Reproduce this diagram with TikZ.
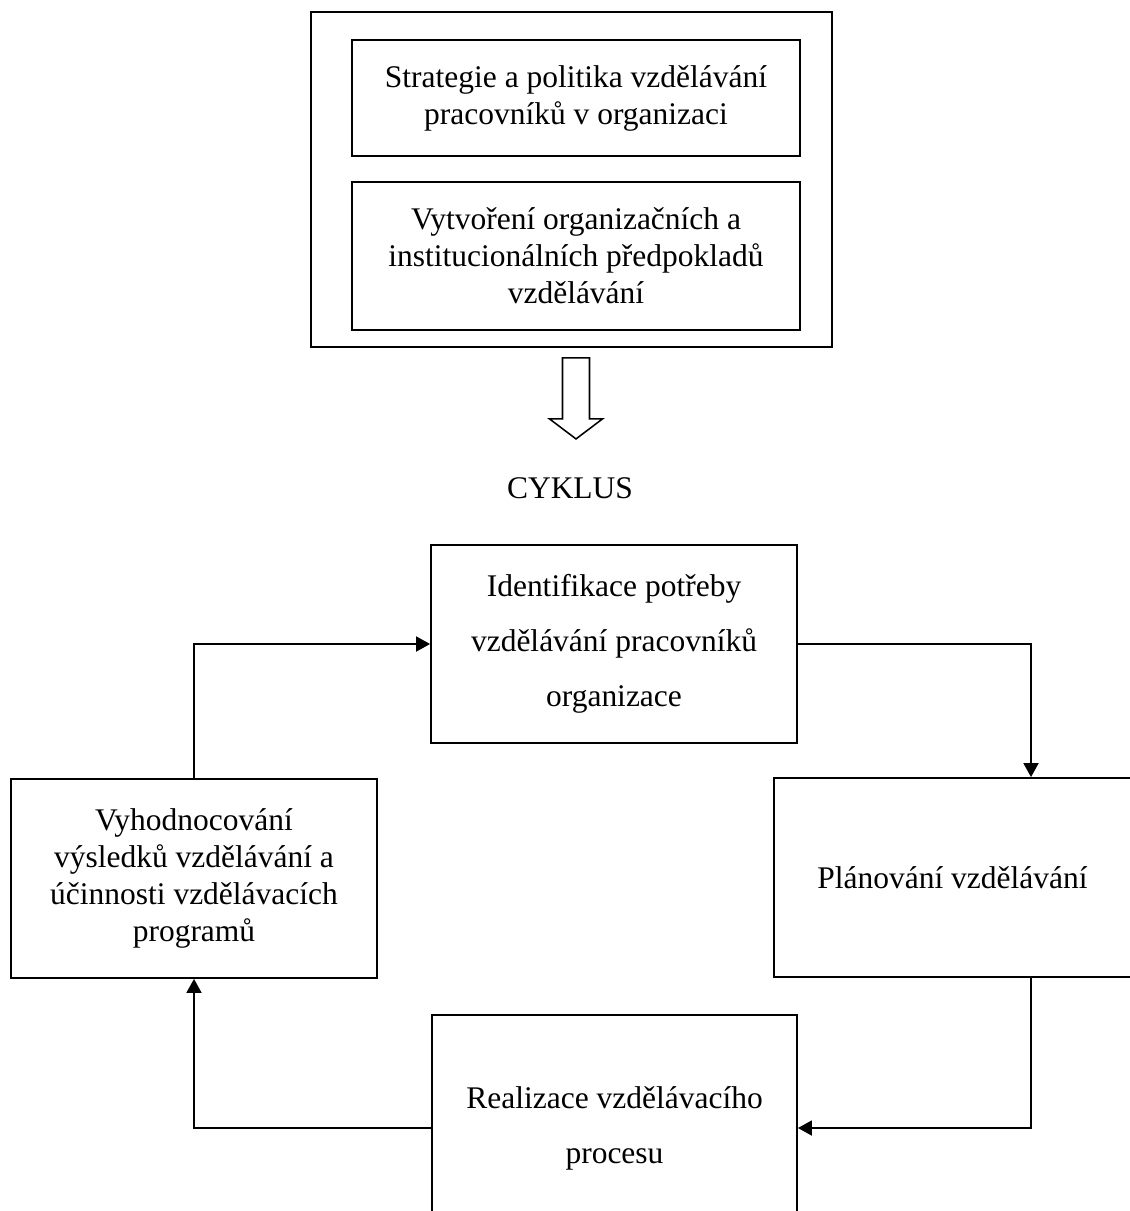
\documentclass[tikz,border=0pt]{standalone}
\usepackage{fontspec}
\setmainfont{Liberation Serif}
\usetikzlibrary{arrows.meta, calc}

\begin{document}
\begin{tikzpicture}[
    box/.style={draw, line width=1.3pt, inner sep=0pt, align=center,
        font=\fontsize{22.4}{26.3}\selectfont},
    widebox/.style={box, font=\fontsize{22.4}{39.1}\selectfont},
    link/.style={line width=1.3pt, -{Triangle[length=0.35cm, width=0.375cm]}},
    hollow/.style={line width=1.1pt, line join=miter}
]
    \useasboundingbox (0,0) rectangle (28.225,-30.275);

    % Frame with the two preconditions
    \node[box, minimum width=13.025cm, minimum height=8.375cm] (frame) at (14.2875,-4.4875) {};
    \node[box, minimum width=11.2cm, minimum height=2.9cm] (strat) at (14.4,-2.45)
        {Strategie a politika vzdělávání\\pracovníků v organizaci};
    \node[box, minimum width=11.2cm, minimum height=3.7cm] (vytv) at (14.4,-6.4)
        {Vytvoření organizačních a\\institucionálních předpokladů\\vzdělávání};

    % Hollow arrow down to the cycle
    \coordinate (down) at ($(vytv.south |- frame.south)+(0,-0.25)$);
    \draw[hollow] ($(down)+(-0.3375,0)$) -- ++(0,-1.525) -- ++(-0.325,0)
        -- ($(down)+(0,-2.025)$) -- ($(down)+(0.6625,-1.525)$) -- ++(-0.325,0)
        -- ($(down)+(0.3375,0)$) -- cycle;

    \node[font=\fontsize{22.4}{26.3}\selectfont] (cyk) at (14.25,-12.2) {CYKLUS};

    % The four steps of the cycle
    \node[widebox, minimum width=9.15cm, minimum height=4.95cm] (ident) at (15.35,-16.1)
        {Identifikace potřeby\\vzdělávání pracovníků\\organizace};
    \node[box, minimum width=8.925cm, minimum height=4.975cm] (plan) at (23.8125,-21.9375)
        {Plánování vzdělávání};
    \node[widebox, minimum width=9.125cm, minimum height=5.65cm] (real) at (15.3625,-28.2)
        {Realizace vzdělávacího\\procesu};
    \node[box, minimum width=9.15cm, minimum height=4.975cm] (eval) at (4.85,-21.9625)
        {Vyhodnocování\\výsledků vzdělávání a\\účinnosti vzdělávacích\\programů};

    % Connectors
    \coordinate (rx) at (25.775,-16.1);
    \draw[link] (ident.east) -| (plan.north -| rx);
    \draw[link] (plan.south -| rx) |- (real.east);
    \draw[link] (real.west) -| (eval.south);
    \draw[link] (eval.north) |- (ident.west);
\end{tikzpicture}
\end{document}
